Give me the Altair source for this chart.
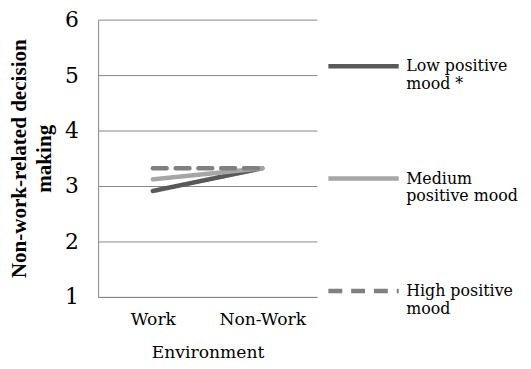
import altair as alt
import pandas as pd

environments = ["Work", "Non-Work"]
series = ["Low positive mood *", "Medium positive mood", "High positive mood"]
low_vals = [2.91, 3.32]
med_vals = [3.12, 3.32]
high_vals = [3.32, 3.32]
y_ticks = [1, 2, 3, 4, 5, 6]

rows = []
for s, vals in zip(series, [low_vals, med_vals, high_vals]):
    for e, v in zip(environments, vals):
        rows.append({"Environment": e, "Series": s, "Value": v})
df = pd.DataFrame(rows)

colors = ["#595959", "#A6A6A6", "#808080"]
dashes = [[1, 0], [1, 0], [14, 9]]
SERIF = "DejaVu Serif"
BOLD_SERIF = "Liberation Serif"

label_expr = (
    "datum.label == 'Low positive mood *' ? ['Low positive', 'mood *'] : "
    "datum.label == 'Medium positive mood' ? ['Medium', 'positive mood'] : "
    "['High positive', 'mood']"
)

chart = alt.Chart(df).mark_line(strokeWidth=4.5, strokeCap="round").encode(
    x=alt.X("Environment:N", sort=environments, title="Environment",
            scale=alt.Scale(paddingInner=0, paddingOuter=0.5),
            axis=alt.Axis(labelAngle=0, ticks=False, domain=True, domainColor="#868686",
                          labelFont=SERIF, titleFont=SERIF,
                          labelFontSize=17.3, titleFontSize=17.3, labelPadding=14,
                          titlePadding=16, titleFontWeight="normal")),
    y=alt.Y("Value:Q", scale=alt.Scale(domain=[1, 6], nice=False, zero=False),
            title=["Non-work-related decision", "making"],
            axis=alt.Axis(values=y_ticks, ticks=False, grid=True, gridColor="#868686",
                          labelFont=SERIF, titleFont=BOLD_SERIF,
                          domainColor="#868686", labelFontSize=22, labelPadding=20,
                          titleFontSize=21.3, titleFontWeight="bold", titlePadding=10,
                          titleLineHeight=25)),
    color=alt.Color("Series:N", scale=alt.Scale(domain=series, range=colors), title=None,
                    legend=alt.Legend(orient="none", legendX=230, legendY=9,
                                      symbolType="stroke", symbolSize=5041,
                                      symbolStrokeWidth=4.5, labelFontSize=16,
                                      labelFont=SERIF, labelExpr=label_expr,
                                      labelBaseline="middle",
                                      labelOffset=5, rowPadding=49.5, padding=0,
                                      labelLimit=200)),
    strokeDash=alt.StrokeDash("Series:N", scale=alt.Scale(domain=series, range=dashes),
                              title=None),
    order=alt.Order("Series:N"),
).properties(
    width=221, height=280,
    autosize=alt.AutoSizeParams(type="none"),
    padding={"left": 91, "top": 10, "right": 208, "bottom": 68},
).configure_axis(
    labelColor="#000000", titleColor="#000000",
).configure_view(stroke=None).configure_legend(labelColor="#000000")

chart.save("out.html", embed_options={"renderer": "svg", "actions": False})
